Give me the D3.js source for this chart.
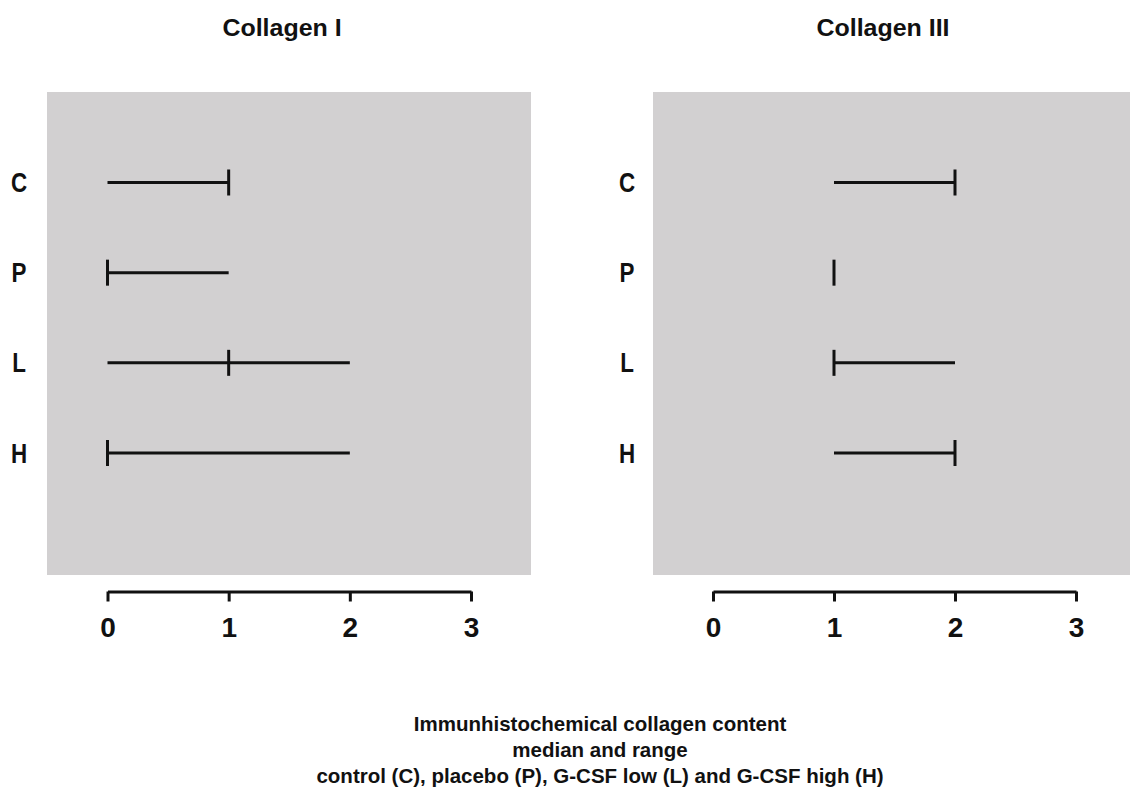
<!DOCTYPE html>
<html><head><meta charset="utf-8">
<script src="https://cdn.jsdelivr.net/npm/d3@7"></script>
<style>
html,body{margin:0;padding:0;background:#fff;}
svg text{font-family:"Liberation Sans",Arial,sans-serif;font-weight:bold;fill:#111;}
</style></head>
<body><svg id="c" width="1130" height="797"></svg>
<script>
const categories = ["C","P","L","H"];
const tickValues = [0,1,2,3];
const panelTitles = ["Collagen I","Collagen III"];
// Collagen I: min, median, max
const col1Min = [0,0,0,0];
const col1Median = [1,0,1,0];
const col1Max = [1,1,2,2];
// Collagen III
const col3Min = [1,1,1,1];
const col3Median = [2,1,1,2];
const col3Max = [2,1,2,2];
const captionLines = ["Immunhistochemical collagen content","median and range","control (C), placebo (P), G-CSF low (L) and G-CSF high (H)"];

const svg = d3.select("#c");
function sText(g, x, y, sx, size, txt) {
  return g.append("text").attr("transform", `translate(${x},${y}) scale(${sx},1)`)
    .attr("text-anchor","middle").attr("font-size", size).text(txt);
}
const panels = [
  {title: panelTitles[0], min: col1Min, med: col1Median, max: col1Max, rx0: 47, rx1: 531, xr: [107.5, 471], labelX: 19, titleX: 282},
  {title: panelTitles[1], min: col3Min, med: col3Median, max: col3Max, rx0: 653, rx1: 1140, xr: [713, 1076], labelX: 627, titleX: 883}
];
const y = d3.scalePoint().domain(categories).range([182.5, 453]);

panels.forEach(p => {
  const g = svg.append("g");
  g.append("rect").attr("x", p.rx0).attr("y", 92).attr("width", p.rx1 - p.rx0).attr("height", 483).attr("fill", "#d2d0d1");
  sText(g, p.titleX, 36, 1.04, 24, p.title);
  const x = d3.scaleLinear().domain([0,3]).range(p.xr);
  categories.forEach((c,i) => {
    sText(g, p.labelX, y(c) + 9.5, 0.8, 28, c);
    g.append("line").attr("x1", x(p.min[i])).attr("x2", x(p.max[i])).attr("y1", y(c)).attr("y2", y(c)).attr("stroke","#111").attr("stroke-width",3);
    g.append("line").attr("x1", x(p.med[i])).attr("x2", x(p.med[i])).attr("y1", y(c)-13).attr("y2", y(c)+13).attr("stroke","#111").attr("stroke-width",3);
  });
  const ax = g.append("g").attr("transform","translate(0,591.5)")
    .call(d3.axisBottom(x).tickValues(tickValues).tickSize(10).tickSizeOuter(0).tickPadding(0).tickFormat(d3.format("d")));
  ax.select(".domain").attr("stroke","#111").attr("stroke-width",3);
  ax.selectAll(".tick line").attr("stroke","#111").attr("stroke-width",3);
  ax.selectAll(".tick text").attr("font-size",28).attr("font-family", null).attr("fill","#111")
    .attr("y", 45).attr("dy", null);
});

captionLines.forEach((t,i) => {
  sText(svg, 600, 731 + i*26, 1, 20.5, t);
});
</script></body></html>
